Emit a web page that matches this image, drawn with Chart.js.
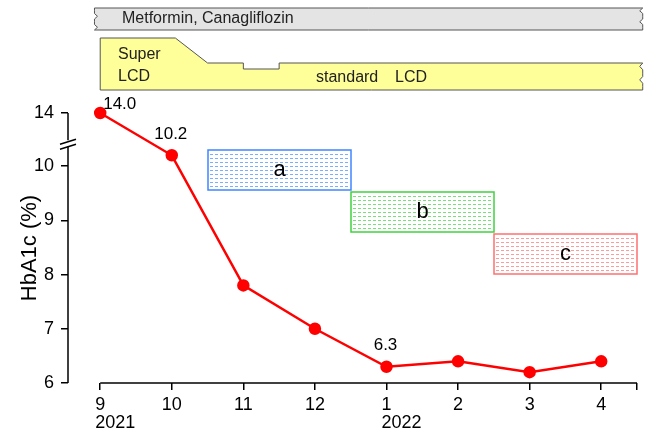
<html>
<head>
<script src="https://cdn.jsdelivr.net/npm/chart.js@4.4.1/dist/chart.umd.min.js"></script>
<style>
  body { margin: 0; background: #fff; }
  #wrap { width: 646px; height: 434px; }
</style>
</head>
<body>
<div id="wrap"><canvas id="myChart" width="646" height="434"></canvas></div>
<script>
// chart values
var months = ['9', '10', '11', '12', '1', '2', '3', '4'];
var years = ['2021', '', '', '', '2022', '', '', ''];
var hba1c = [14.0, 10.2, 7.8, 7.0, 6.3, 6.4, 6.2, 6.4];
var labelled = [0, 1, 4];          // points that carry a value label
var yTicks = [6, 7, 8, 9, 10, 14];

// axis break: 14 sits just above 10 on the drawn axis
var breakFrom = 10.5, breakShowAs = 10.98;

// periods a, b, c (x in month index, y in HbA1c)
var boxNames = ['a', 'b', 'c'];
var boxX = [[1.5, 3.5], [3.5, 5.5], [5.5, 7.5]];
var boxY = [[9.56, 10.3], [8.78, 9.52], [8.01, 8.75]];
var boxColors = [['#3f86ff', '#7aaeff'], ['#3fd23f', '#78e078'], ['#ff6f6f', '#ff9a9a']];

function toAxis(v) { return v > breakFrom ? breakShowAs : v; }

var FONT = 'Liberation Sans, Arial, sans-serif';

function zigzag(ctx, x, y1, y2, dir) {
    var n = 4, h = (y2 - y1) / n;
    for (var i = 1; i <= n; i++) {
        ctx.lineTo(x + (i % 2 ? -3 : 0) * dir, y1 + h * i - h / 2);
        ctx.lineTo(x, y1 + h * i);
    }
}

var extras = {
    id: 'extras',
    beforeDatasetsDraw: function (chart) {
        var ctx = chart.ctx, xs = chart.scales.x, ys = chart.scales.y;
        ctx.save();
        // boxes
        for (var i = 0; i < boxNames.length; i++) {
            var l = Math.round(xs.getPixelForValue(boxX[i][0])), r = Math.round(xs.getPixelForValue(boxX[i][1]));
            var t = Math.round(ys.getPixelForValue(boxY[i][1])), b = Math.round(ys.getPixelForValue(boxY[i][0]));
            // dashed hatch
            ctx.fillStyle = boxColors[i][1];
            for (var yy = t + 4; yy < b - 2; yy += 4) {
                for (var xx = l + 2; xx < r - 3; xx += 5) {
                    ctx.fillRect(xx, yy, 3, 1);
                }
            }
            ctx.strokeStyle = boxColors[i][0];
            ctx.lineWidth = 1.5;
            ctx.strokeRect(l, t, r - l, b - t);
            ctx.fillStyle = '#000';
            ctx.font = '22px ' + FONT;
            ctx.textAlign = 'center';
            ctx.textBaseline = 'middle';
            ctx.fillText(boxNames[i], (l + r) / 2, (t + b) / 2);
        }
        ctx.restore();
    },
    afterDraw: function (chart) {
        var ctx = chart.ctx, xs = chart.scales.x, ys = chart.scales.y;
        var area = chart.chartArea;
        ctx.save();
        ctx.strokeStyle = '#000';
        ctx.lineWidth = 1.5;
        // x axis line
        ctx.beginPath();
        ctx.moveTo(xs.getPixelForValue(0), area.bottom);
        ctx.lineTo(xs.getPixelForValue(7.5), area.bottom);
        ctx.stroke();
        // y axis line with break
        var bx = area.left, by = ys.getPixelForValue(10.44);
        ctx.beginPath();
        ctx.moveTo(bx, area.top);
        ctx.lineTo(bx, by - 2);
        ctx.moveTo(bx, by + 4);
        ctx.lineTo(bx, area.bottom);
        ctx.stroke();
        ctx.beginPath();
        ctx.moveTo(bx - 8, by + 2); ctx.lineTo(bx + 8, by - 3);
        ctx.moveTo(bx - 8, by + 7); ctx.lineTo(bx + 8, by + 2);
        ctx.stroke();

        // year labels under month ticks
        ctx.fillStyle = '#000';
        ctx.font = '18px ' + FONT;
        ctx.textAlign = 'left';
        ctx.textBaseline = 'middle';
        for (var i = 0; i < years.length; i++) {
            if (years[i]) ctx.fillText(years[i], xs.getPixelForValue(i) - 5, 423);
        }

        // value labels
        var meta = chart.getDatasetMeta(0);
        ctx.font = '17px ' + FONT;
        labelled.forEach(function (i) {
            var p = meta.data[i];
            var txt = hba1c[i].toFixed(1);
            if (i === 0) { ctx.textAlign = 'left'; ctx.fillText(txt, p.x + 3, p.y - 9); }
            else { ctx.textAlign = 'center'; ctx.fillText(txt, p.x - 1, p.y - 21); }
        });

        // treatment banners
        var x0 = xs.getPixelForValue(0), x1 = xs.getPixelForValue(7.58), xg = xs.getPixelForValue(-0.08);
        ctx.lineWidth = 1;
        ctx.strokeStyle = '#555';
        ctx.fillStyle = '#e4e4e4';
        ctx.beginPath();
        ctx.moveTo(xg, 8);
        ctx.lineTo(x1, 8);
        zigzag(ctx, x1, 8, 30, 1);
        ctx.lineTo(xg, 30);
        var n = 4, h = 22 / n;
        for (var k = 1; k <= n; k++) {
            ctx.lineTo(xg + (k % 2 ? 3 : 0), 30 - h * k + h / 2);
            ctx.lineTo(xg, 30 - h * k);
        }
        ctx.closePath();
        ctx.fill();
        ctx.stroke();

        ctx.fillStyle = '#ffff99';
        ctx.beginPath();
        ctx.moveTo(x0, 38);
        ctx.lineTo(xs.getPixelForValue(1.05), 38);
        ctx.lineTo(xs.getPixelForValue(1.5), 63);
        ctx.lineTo(xs.getPixelForValue(2.0), 63);
        ctx.lineTo(xs.getPixelForValue(2.0), 69);
        ctx.lineTo(xs.getPixelForValue(2.5), 69);
        ctx.lineTo(xs.getPixelForValue(2.5), 63);
        ctx.lineTo(x1, 63);
        zigzag(ctx, x1, 63, 90, 1);
        ctx.lineTo(x0, 90);
        ctx.closePath();
        ctx.fill();
        ctx.stroke();

        ctx.fillStyle = '#222';
        ctx.font = '16px ' + FONT;
        ctx.textAlign = 'left';
        ctx.fillText('Metformin, Canagliflozin', 122, 19);
        ctx.fillText('Super', 118, 55);
        ctx.fillText('LCD', 118, 77);
        ctx.fillText('standard', 316, 78);
        ctx.fillText('LCD', 395, 78);
        ctx.restore();
    }
};

new Chart('myChart', {
    type: 'line',
    data: {
        datasets: [{
            data: hba1c.map(function (v, i) { return { x: i, y: toAxis(v) }; }),
            borderColor: '#ff0000',
            backgroundColor: '#ff0000',
            borderWidth: 2.5,
            pointRadius: 5,
            pointHoverRadius: 5,
            clip: false,
            tension: 0
        }]
    },
    options: {
        responsive: false,
        animation: false,
        events: [],
        layout: { padding: { top: 113, right: 9, left: 0, bottom: 0 } },
        plugins: { legend: { display: false }, tooltip: { enabled: false } },
        scales: {
            x: {
                type: 'linear',
                min: -0.45,
                max: 7.5,
                afterBuildTicks: function (s) {
                    s.ticks = months.map(function (m, i) { return { value: i }; }).concat([{ value: 7.5 }]);
                },
                afterFit: function (s) { s.height = 51; },
                border: { display: false },
                grid: { drawOnChartArea: false, drawTicks: true, tickLength: 7, color: '#000', lineWidth: 1.5 },
                ticks: {
                    color: '#000',
                    font: { size: 18, family: FONT },
                    padding: 4,
                    maxRotation: 0,
                    autoSkip: false,
                    callback: function (v) { return months[v] !== undefined ? months[v] : ''; }
                }
            },
            y: {
                min: 6,
                max: breakShowAs,
                afterBuildTicks: function (s) {
                    s.ticks = yTicks.map(function (v) { return { value: toAxis(v) }; });
                },
                afterFit: function (s) { s.width = 68; },
                border: { display: false },
                grid: { drawOnChartArea: false, drawTicks: true, tickLength: 7, color: '#000', lineWidth: 1.5 },
                ticks: {
                    color: '#000',
                    font: { size: 18, family: FONT },
                    padding: 7,
                    callback: function (v) { return v > breakFrom ? String(yTicks[yTicks.length - 1]) : String(v); }
                },
                title: {
                    display: true,
                    text: 'HbA1c (%)',
                    color: '#000',
                    font: { size: 22, family: FONT },
                    padding: { top: 17, bottom: 0 }
                }
            }
        }
    },
    plugins: [extras]
});
</script>
</body>
</html>
